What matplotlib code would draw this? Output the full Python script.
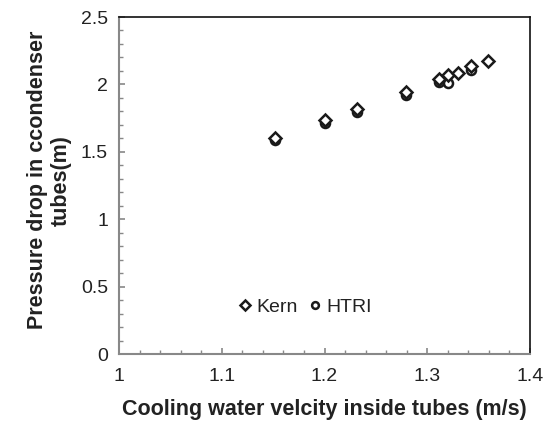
import matplotlib
matplotlib.use("Agg")
import matplotlib.pyplot as plt
from matplotlib.ticker import MultipleLocator

plt.rcParams['font.family'] = ['Liberation Sans', 'DejaVu Sans']

# data
kern_v = [1.152, 1.200, 1.232, 1.279, 1.311, 1.320, 1.330, 1.343, 1.359]
kern_dp = [1.605, 1.733, 1.815, 1.943, 2.040, 2.067, 2.084, 2.133, 2.173]
htri_v = [1.152, 1.200, 1.232, 1.279, 1.311, 1.320, 1.343]
htri_dp = [1.585, 1.713, 1.793, 1.924, 2.015, 2.012, 2.109]

fig = plt.figure(figsize=(5.5, 4.23), dpi=100)
ax = fig.add_axes([0.2164, 0.1631, 0.9636 - 0.2164, 0.9598 - 0.1631])

ax.plot(htri_v, htri_dp, linestyle='none', marker='o', markersize=6.5,
        markerfacecolor='white', markeredgecolor='#1a1a1a', markeredgewidth=1.8,
        label='HTRI')
ax.plot(kern_v, kern_dp, linestyle='none', marker='D', markersize=6.3,
        markerfacecolor='white', markeredgecolor='#1a1a1a', markeredgewidth=1.8,
        label='Kern')

ax.set_xlim(1, 1.4)
ax.set_ylim(0, 2.5)
ax.xaxis.set_major_locator(MultipleLocator(0.1))
ax.xaxis.set_minor_locator(MultipleLocator(0.02))
ax.yaxis.set_major_locator(MultipleLocator(0.5))
ax.yaxis.set_minor_locator(MultipleLocator(0.1))
ax.xaxis.set_major_formatter(plt.FuncFormatter(lambda v, p: f'{v:g}'))
ax.yaxis.set_major_formatter(plt.FuncFormatter(lambda v, p: f'{v:g}'))

ax.tick_params(which='both', direction='in', color='#888888', labelsize=14,
               labelcolor='#222222')
ax.tick_params(which='major', length=4.5, width=1.2)
ax.tick_params(which='minor', length=3, width=1)
ax.tick_params(axis='x', pad=10)
ax.tick_params(axis='y', pad=8)

for side in ['left', 'bottom']:
    ax.spines[side].set_color('#888888')
    ax.spines[side].set_linewidth(1.5)
for side in ['top', 'right']:
    ax.spines[side].set_color('#111111')
    ax.spines[side].set_linewidth(1.2)

ax.set_xlabel('Cooling water velcity inside tubes (m/s)', fontsize=15.5,
              fontweight='bold', color='#222222', va='center')
ax.xaxis.set_label_coords(0.499, -0.166)
ax.set_ylabel('Pressure drop in ccondenser\ntubes(m)', fontsize=15.5,
              fontweight='bold', color='#222222', va='center',
              multialignment='center')
ax.yaxis.set_label_coords(-0.17, 0.516)

handles, labels = ax.get_legend_handles_labels()
leg = ax.legend(handles[::-1], labels[::-1], ncol=2, frameon=False,
                loc='center', bbox_to_anchor=(0.454, 0.139), fontsize=14,
                markerscale=0.75, handlelength=0.6, handletextpad=0.3,
                columnspacing=0.6)
for t in leg.get_texts():
    t.set_color('#222222')

fig.savefig('out.png', dpi=100)
